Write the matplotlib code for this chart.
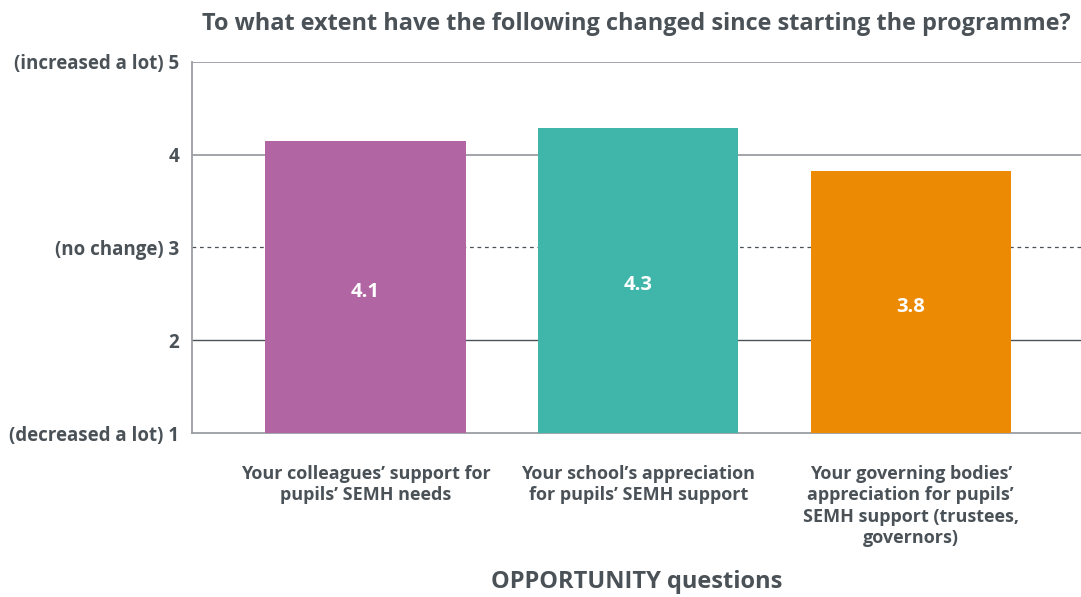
import matplotlib.pyplot as plt
import numpy as np

plt.rcParams['font.family'] = ['Open Sans', 'DejaVu Sans']

categories = ["Your colleagues\u2019 support for\npupils\u2019 SEMH needs",
              "Your school\u2019s appreciation\nfor pupils\u2019 SEMH support",
              "Your governing bodies\u2019\nappreciation for pupils\u2019\nSEMH support (trustees,\ngovernors)"]
values = [4.15, 4.29, 3.82]
value_labels = ["4.1", "4.3", "3.8"]
colors = ['#b265a3', '#40b5a9', '#ec8a04']
y_ticks = [1, 2, 3, 4, 5]
y_ticklabels = ['(decreased a lot) 1', '2', '(no change) 3', '4', '(increased a lot) 5']

text_c = '#4a5258'

fig = plt.figure(figsize=(10.81, 5.97), dpi=100)
ax = fig.add_axes([0.1776, 0.2747, 0.8224, 0.6215])

x = np.arange(len(categories))
bars = ax.bar(x, np.array(values) - 1, bottom=1, width=0.735, color=colors, zorder=3)

ax.set_ylim(1, 5)
ax.set_xlim(-0.637, 2.625)

# gridlines
for yv in [4, 5]:
    ax.axhline(yv, color='#9a9ea2', lw=1.3, zorder=1)
ax.axhline(2, color='#4a5258', lw=1.0, zorder=1)
ax.axhline(3, color='#4a5258', lw=0.9, ls=(0, (3, 3)), zorder=1)

for s in ['top', 'right']:
    ax.spines[s].set_visible(False)
ax.spines['left'].set_color('#9a9ea2')
ax.spines['left'].set_linewidth(1.3)
ax.spines['bottom'].set_color('#9a9ea2')
ax.spines['bottom'].set_linewidth(1.3)

ax.set_yticks(y_ticks)
ax.set_yticklabels(y_ticklabels, fontsize=13.5, fontweight='bold', color=text_c)
ax.tick_params(axis='y', length=0, pad=9)
ax.set_xticks(x)
ax.set_xticklabels(categories, fontsize=13, fontweight='bold', color=text_c, linespacing=1.25, va='top')
ax.tick_params(axis='x', length=0, pad=23)

for b, lab, v in zip(bars, value_labels, values):
    ax.text(b.get_x() + b.get_width() / 2, (1 + v) / 2 - 0.05, lab, ha='center', va='center',
            color='white', fontsize=14.5, fontweight='bold', zorder=4)

ax.set_title('To what extent have the following changed since starting the programme?',
             fontsize=16.9, fontweight='bold', color=text_c, pad=23)
ax.set_xlabel('OPPORTUNITY questions', fontsize=17, fontweight='bold', color=text_c, labelpad=16)

fig.savefig('out.png', dpi=100)
